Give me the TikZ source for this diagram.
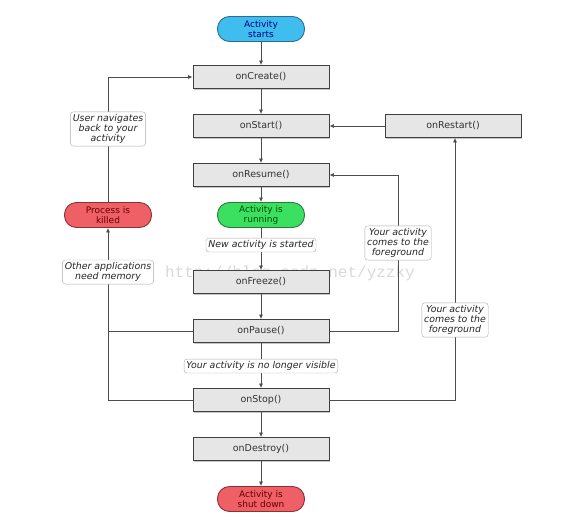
\documentclass[tikz,border=0pt]{standalone}
\usepackage{fontspec}
\setmainfont{DejaVu Sans}
\setmonofont{Liberation Mono}
\usetikzlibrary{shadows,arrows.meta}
\definecolor{bluefill}{HTML}{3FBDEE}
\definecolor{blueline}{HTML}{2A6F90}
\definecolor{greenfill}{HTML}{3CE060}
\definecolor{greenline}{HTML}{2C7A3A}
\definecolor{redfill}{HTML}{EE5F66}
\definecolor{redline}{HTML}{8A3036}
\definecolor{boxfill}{HTML}{E6E6E6}
\begin{document}
\begin{tikzpicture}[x=1pt,y=-1pt,
  stepbox/.style={draw=black!75, line width=0.9pt, fill=boxfill, minimum width=136pt, minimum height=23pt,
    font=\fontsize{9.5}{10}\selectfont, text=black!80,
    drop shadow={shadow xshift=1.3pt, shadow yshift=-1.3pt, opacity=0.45}},
  pill/.style={rounded corners=12pt, minimum width=87pt, minimum height=25pt, line width=0.9pt,
    align=center, font=\fontsize{9}{9.5}\selectfont, inner sep=1pt},
  lbl/.style={draw=gray!65, fill=white, rounded corners=3pt, font=\fontsize{9.4}{10.2}\selectfont\itshape,
    align=center, inner sep=2.4pt, text=black!85},
  arr/.style={-{Latex[length=4.5pt,width=4pt]}, draw=black!70, line width=0.7pt},
  ln/.style={draw=black!70, line width=0.7pt}]
\useasboundingbox (0,0) rectangle (562,525);
\node[font=\ttfamily\fontsize{16}{16}\selectfont, text=gray!30] (wm) at (290,273) {http://blog.csdn.net/yzzky};

\node[pill, fill=bluefill, draw=blueline, text=blue!50!black] (start) at (261,29) {Activity\\starts};
\node[stepbox] (create) at (261,77) {onCreate()};
\node[stepbox] (onstart) at (261,126) {onStart()};
\node[stepbox] (restart) at (453,126) {onRestart()};
\node[stepbox] (resume) at (261,175) {onResume()};
\node[pill, fill=greenfill, draw=greenline, text=green!30!black] (running) at (261,215) {Activity is\\running};
\node[stepbox] (freeze) at (261,282) {onFreeze()};
\node[stepbox] (pause) at (261,331) {onPause()};
\node[stepbox] (stop) at (261,400) {onStop()};
\node[stepbox] (destroy) at (261,449) {onDestroy()};
\node[pill, fill=redfill, draw=redline, text=red!40!black] (shut) at (261,499) {Activity is\\shut down};
\node[pill, fill=redfill, draw=redline, text=red!40!black] (killed) at (108,215) {Process is\\killed};

\coordinate (r1) at (398,331);
\coordinate (r2) at (455,400);

\draw[arr] (start) -- (create);
\draw[arr] (create) -- (onstart);
\draw[arr] (onstart) -- (resume);
\draw[arr] (resume) -- (running);
\draw[arr] (running) -- (freeze);
\draw[arr] (freeze) -- (pause);
\draw[arr] (pause) -- (stop);
\draw[arr] (stop) -- (destroy);
\draw[arr] (destroy) -- (shut);
\draw[arr] (killed) |- (create);
\draw[arr] (stop.west) -| (killed.south);
\draw[ln] (pause.west) -- (pause.west -| killed.south);
\draw[arr] (pause.east) -- (r1) |- (resume.east);
\draw[arr] (stop.east) -- (r2) -- (r2 |- restart.south);
\draw[arr] (restart) -- (onstart);

\node[lbl] (l1) at (108,129) {User navigates\\back to your\\activity};
\node[lbl] (l2) at (108,272) {Other applications\\need memory};
\node[lbl] (l3) at (261,245) {New activity is started};
\node[lbl] (l4) at (261,366) {Your activity is no longer visible};
\node[lbl] (l5) at (398,243) {Your activity\\comes to the\\foreground};
\node[lbl] (l6) at (455,320) {Your activity\\comes to the\\foreground};
\end{tikzpicture}
\end{document}
